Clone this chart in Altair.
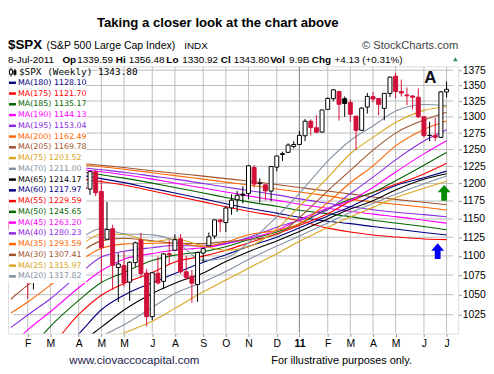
import altair as alt
import pandas as pd
import numpy as np

# ---------------- weekly candles (week start dates) ----------------
dates = ["2010-01-11","2010-01-18","2010-01-25","2010-02-01","2010-02-08","2010-02-15","2010-02-22",
"2010-03-01","2010-03-08","2010-03-15","2010-03-22","2010-03-29",
"2010-04-05","2010-04-12","2010-04-19","2010-04-26",
"2010-05-03","2010-05-10","2010-05-17","2010-05-24","2010-05-31",
"2010-06-07","2010-06-14","2010-06-21","2010-06-28",
"2010-07-05","2010-07-12","2010-07-19","2010-07-26",
"2010-08-02","2010-08-09","2010-08-16","2010-08-23","2010-08-30",
"2010-09-06","2010-09-13","2010-09-20","2010-09-27",
"2010-10-04","2010-10-11","2010-10-18","2010-10-25",
"2010-11-01","2010-11-08","2010-11-15","2010-11-22","2010-11-29",
"2010-12-06","2010-12-13","2010-12-20","2010-12-27",
"2011-01-03","2011-01-10","2011-01-17","2011-01-24","2011-01-31",
"2011-02-07","2011-02-14","2011-02-21","2011-02-28",
"2011-03-07","2011-03-14","2011-03-21","2011-03-28",
"2011-04-04","2011-04-11","2011-04-18","2011-04-25",
"2011-05-02","2011-05-09","2011-05-16","2011-05-23","2011-05-30",
"2011-06-06","2011-06-13","2011-06-20","2011-06-27",
"2011-07-04"]

opens = [1145.96,1136.03,1092.0,1073.89,1065.51,1075.95,1110.0,
1105.36,1138.4,1148.53,1157.25,1167.71,
1178.71,1194.94,1192.06,1217.07,
1188.58,1122.27,1136.52,1084.78,1087.3,
1065.84,1091.21,1121.34,1077.5,
1022.58,1077.23,1066.85,1102.89,
1107.53,1122.8,1079.25,1073.36,1062.9,
1103.8,1113.38,1126.57,1148.64,
1144.96,1165.32,1176.83,1184.74,
1185.71,1223.24,1200.44,1198.07,1189.08,
1223.87,1242.52,1245.76,1254.66,
1257.62,1270.84,1293.22,1283.29,1276.5,
1311.85,1328.73,1340.38,1328.64,
1322.72,1301.19,1279.26,1315.45,
1332.03,1329.01,1313.35,1337.14,
1365.21,1340.20,1334.77,1333.07,1331.10,
1300.26,1271.31,1271.50,1268.44,
1339.59]

highs = [1149.74,1150.45,1103.69,1104.73,1080.04,1112.42,1112.29,
1139.38,1151.26,1169.20,1180.69,1181.43,
1194.66,1213.92,1217.28,1219.80,
1205.13,1173.57,1141.88,1103.52,1105.67,
1092.75,1119.13,1131.23,1082.60,
1078.16,1099.08,1103.73,1120.95,
1128.75,1129.24,1100.14,1081.58,1105.10,
1110.88,1131.47,1148.90,1149.92,
1167.73,1184.38,1189.43,1196.14,
1227.08,1226.84,1207.43,1198.94,1225.57,
1240.40,1246.73,1259.39,1262.60,
1278.17,1296.68,1296.06,1302.67,1311.00,
1330.79,1344.07,1340.38,1332.28,
1327.68,1301.19,1315.13,1337.85,
1339.46,1329.01,1337.49,1364.56,
1370.58,1359.44,1346.82,1334.62,1345.20,
1300.26,1292.50,1298.61,1341.01,
1356.48]

lows = [1131.39,1090.18,1071.59,1044.50,1056.51,1075.95,1086.02,
1105.36,1136.22,1141.45,1148.81,1165.77,
1175.12,1186.77,1183.68,1181.62,
1065.79,1122.27,1055.90,1040.78,1060.50,
1042.17,1085.71,1071.84,1010.91,
1018.35,1062.66,1056.88,1088.01,
1107.17,1076.61,1069.55,1039.70,1040.88,
1091.15,1113.38,1122.79,1131.87,
1131.87,1155.71,1159.71,1171.70,
1177.65,1194.08,1173.00,1176.00,1174.55,
1217.80,1232.85,1245.76,1251.48,
1257.62,1262.70,1271.26,1275.10,1276.50,
1311.74,1324.61,1294.26,1300.10,
1291.99,1249.05,1279.26,1305.26,
1322.94,1302.64,1294.70,1331.47,
1329.17,1332.03,1318.51,1311.80,1297.90,
1268.28,1262.66,1262.87,1267.53,
1330.92]

closes = [1136.03,1091.76,1073.87,1066.19,1075.51,1109.17,1104.49,
1138.70,1149.99,1159.90,1166.59,1178.10,
1194.37,1192.13,1217.28,1186.69,
1110.88,1135.68,1087.69,1089.41,1064.88,
1091.60,1117.51,1076.76,1022.58,
1077.96,1064.88,1102.66,1101.60,
1121.64,1079.25,1071.69,1064.59,1104.51,
1109.55,1125.59,1148.67,1146.24,
1165.15,1176.19,1183.08,1183.26,
1225.85,1199.21,1199.73,1189.40,1224.71,
1240.40,1243.91,1256.77,1257.64,
1271.50,1293.24,1283.35,1276.34,1310.87,
1329.15,1343.01,1319.88,1321.15,
1304.28,1279.20,1313.80,1332.41,
1328.17,1319.68,1337.38,1363.61,
1340.20,1337.77,1333.27,1331.10,1300.16,
1270.98,1271.50,1268.45,1339.67,
1343.80]

# ---------------- moving averages read at sample weeks ----------------
ma_dates = ["2010-01-11","2010-02-01","2010-03-01","2010-04-05","2010-05-03","2010-05-31",
            "2010-07-05","2010-08-02","2010-09-06","2010-10-04","2010-11-01","2010-12-06",
            "2011-01-03","2011-02-07","2011-03-07","2011-04-04","2011-05-02","2011-06-06","2011-07-04"]

ma180 = [1223.7,1221.5,1217.1,1212.1,1207.1,1201.3,1192.8,1186.5,1178.0,1171.1,1164.8,1158.0,1152.4,1146.9,1143.5,1139.5,1136.1,1131.4,1128.10]
ma175 = [1219.3,1216.4,1212.1,1207.1,1202.7,1197.8,1189.3,1182.3,1173.8,1166.9,1160.7,1153.8,1147.5,1137.4,1132.1,1128.1,1125.4,1122.7,1121.70]
ma185 = [1228.0,1225.9,1222.2,1217.1,1212.8,1207.8,1200.6,1194.2,1186.5,1180.1,1173.8,1167.6,1162.0,1157.3,1153.2,1148.2,1144.3,1139.5,1135.17]
ma190 = [1231.0,1228.8,1225.1,1220.8,1217.1,1212.8,1206.3,1200.6,1193.5,1187.9,1182.3,1175.9,1170.4,1164.8,1160.7,1156.6,1153.2,1148.2,1144.13]
ma195 = [1233.9,1231.7,1228.0,1223.7,1220.0,1216.4,1210.7,1206.3,1199.9,1194.9,1190.0,1183.7,1178.0,1171.8,1166.9,1162.7,1159.3,1155.9,1153.04]
ma200 = [1236.9,1234.6,1231.7,1227.3,1224.4,1220.8,1215.7,1211.4,1206.3,1202.0,1197.8,1192.1,1187.9,1182.3,1177.3,1173.8,1170.4,1166.2,1162.49]
ma205 = [1239.2,1236.9,1233.9,1229.5,1226.6,1223.2,1218.6,1215.0,1210.7,1207.1,1203.5,1198.5,1194.2,1189.3,1185.1,1180.8,1177.3,1173.2,1169.78]
ma75 = [955.0,968.20,961.08,975.27,991.36,1002.84,1016.92,1032.79,1053.63,1068.50,1083.84,1102.91,1119.49,1138.25,1153.02,1166.07,1179.61,1193.16,1203.52]
ma70 = [945.0,950.77,961.38,982.41,998.62,1012.61,1034.07,1051.32,1066.04,1079.71,1095.21,1113.17,1126.80,1144.53,1159.03,1171.48,1184.49,1199.64,1211.00]
ma65 = [943.0,952.88,967.99,989.32,1009.79,1030.75,1051.46,1064.51,1077.66,1092.58,1105.67,1120.05,1132.68,1150.01,1163.75,1175.51,1190.79,1206.10,1214.17]
ma60 = [945.0,960.20,974.29,1001.71,1031.08,1049.31,1065.33,1076.97,1091.53,1101.60,1112.50,1125.11,1137.63,1154.22,1166.98,1182.75,1197.06,1208.43,1217.97]
ma55 = [952.0,966.89,986.43,1025.26,1049.30,1064.24,1078.29,1092.03,1099.71,1107.52,1117.33,1129.75,1141.09,1157.06,1174.58,1187.32,1198.77,1213.95,1229.59]
ma50 = [965.79,981.12,1010.80,1042.76,1065.37,1078.39,1093.84,1101.09,1105.67,1112.10,1121.66,1132.07,1142.91,1164.19,1177.65,1187.08,1203.88,1226.54,1245.65]
ma45 = [986.79,1006.58,1028.65,1058.72,1080.51,1095.68,1102.99,1107.86,1110.74,1116.07,1123.34,1134.26,1149.25,1164.80,1175.86,1194.31,1216.75,1243.50,1263.20]
ma40 = [1009.14,1024.60,1044.84,1075.49,1098.51,1106.21,1110.94,1113.84,1113.29,1116.67,1124.71,1138.70,1148.08,1162.87,1185.63,1209.26,1234.61,1262.90,1280.23]
ma35 = [1026.86,1040.73,1062.02,1092.08,1110.12,1115.75,1116.96,1117.20,1112.46,1118.68,1128.41,1134.25,1143.48,1172.73,1201.11,1225.76,1255.50,1280.59,1293.59]
ma30 = [1044.21,1062.12,1079.13,1103.49,1120.07,1123.57,1120.16,1116.88,1116.42,1119.20,1121.52,1128.54,1151.75,1189.52,1218.96,1249.07,1274.91,1295.10,1307.41]
ma25 = [1068.49,1077.68,1090.23,1112.30,1129.44,1128.73,1119.19,1122.53,1113.22,1107.40,1112.11,1136.21,1167.71,1208.36,1243.72,1268.41,1291.19,1310.20,1315.97]
ma20 = [1082.75,1087.97,1097.93,1121.88,1136.91,1129.66,1128.16,1120.04,1094.10,1097.34,1117.59,1153.02,1185.80,1232.80,1263.68,1285.96,1309.08,1319.62,1317.82]

# legend order: (name, colour, series)
ma_list = [
    ("MA(180)", "#000080", ma180), ("MA(175)", "#ff0000", ma175), ("MA(185)", "#006400", ma185),
    ("MA(190)", "#ff00ff", ma190), ("MA(195)", "#8a2be2", ma195), ("MA(200)", "#ff6600", ma200),
    ("MA(205)", "#a0522d", ma205), ("MA(75)", "#daa520", ma75), ("MA(70)", "#8392a2", ma70),
    ("MA(65)", "#000000", ma65), ("MA(60)", "#000080", ma60), ("MA(55)", "#ff0000", ma55),
    ("MA(50)", "#006400", ma50), ("MA(45)", "#ff00ff", ma45), ("MA(40)", "#8a2be2", ma40),
    ("MA(35)", "#ff6600", ma35), ("MA(30)", "#a0522d", ma30), ("MA(25)", "#daa520", ma25),
    ("MA(20)", "#8392a2", ma20),
]

y_ticks = [1025, 1050, 1075, 1100, 1125, 1150, 1175, 1200, 1225, 1250, 1275, 1300, 1325, 1350, 1375]
month_weeks = ["2010-02-01","2010-03-01","2010-04-05","2010-05-03","2010-05-31","2010-07-05",
               "2010-08-02","2010-09-06","2010-10-04","2010-11-01","2010-12-06","2011-01-03",
               "2011-02-07","2011-03-07","2011-04-04","2011-05-02","2011-06-06","2011-07-04"]
year_start = "2011-01-03"
x_lo, x_hi = "2010-01-13T16:20:00", "2011-07-12T09:07:00"
y_lo, y_hi = 1002.1, 1381.5

def ms(s):
    return int(pd.Timestamp(s).tz_localize("UTC").value // 10**6)

W, H = 455, 270
x_scale = alt.Scale(type="utc", domain=[ms(x_lo), ms(x_hi)])
y_scale = alt.Scale(type="log", domain=[y_lo, y_hi], nice=False, zero=False)
FONT = "Liberation Sans"
GRID = "#bdbdbd"

# ---------------- frames ----------------
cdf = pd.DataFrame(dict(date=dates, open=opens, high=highs, low=lows, close=closes))
prev = cdf["close"].shift(1).fillna(cdf["open"])
cdf["col"] = np.where(cdf["close"] >= prev, "#000000", "#d1103a")
cdf["fillc"] = np.where(cdf["close"] > cdf["open"], "#ffffff", cdf["col"])
cdf["body_lo"] = cdf[["open", "close"]].min(axis=1)
cdf["body_hi"] = cdf[["open", "close"]].max(axis=1)

rows = []
for name, col, ser in ma_list:
    for d, v in zip(ma_dates, ser):
        rows.append(dict(name=name, color=col, date=d, value=v))
mdf = pd.DataFrame(rows)

# grid segments (two end points each), stored with the MA-style columns
grid_rows = []
for v in y_ticks:
    for d in ("2010-01-14", "2011-07-12"):
        grid_rows.append(dict(name=f"h{v}", color=GRID, date=d, value=v))
for d in month_weeks:
    for v in (1003.0, 1381.0):
        grid_rows.append(dict(name=f"v{d}", color=GRID, date=d, value=v))
for v in (1003.0, 1381.0):
    grid_rows.append(dict(name="year", color="#8c8c8c", date=year_start, value=v))
gdf = pd.DataFrame(grid_rows)

month_expr = "utcmonth(datum.value + 259200000)"
x_axis = alt.Axis(values=[ms(d) for d in month_weeks],
                  labelExpr=f"{month_expr} == 0 ? '11' : substring('JFMAMJJASOND', {month_expr}, {month_expr} + 1)",
                  labelFontWeight={"condition": {"test": f"{month_expr} == 0", "value": "bold"}, "value": "normal"},
                  grid=False, domain=False, tickSize=3, tickColor="#999999",
                  labelFont=FONT, labelFontSize=10.5, labelColor="#000000", labelPadding=2, title=None)
y_axis = alt.Axis(orient="right", values=y_ticks, format="d", grid=False,
                  domain=False, tickSize=3, tickColor="#999999", labelFont=FONT, labelFontSize=10.5,
                  labelColor="#000000", labelPadding=1, title=None)

X = lambda f="date:T": alt.X(f, scale=x_scale, axis=x_axis)
Y = lambda f: alt.Y(f, scale=y_scale, axis=y_axis)

grid = alt.Chart(gdf).mark_line(strokeWidth=1, clip=True).encode(
    x=X(), y=Y("value:Q"), detail="name:N", color=alt.Color("color:N", scale=None))

ma_layer = alt.Chart(mdf).mark_line(strokeWidth=1.1, interpolate="monotone", clip=True).encode(
    x=X(), y=Y("value:Q"),
    detail="name:N",
    color=alt.Color("color:N", scale=None))

wick = alt.Chart(cdf).mark_rule(strokeWidth=1, clip=True).encode(
    x=X(), y=Y("low:Q"), y2="high:Q",
    color=alt.Color("col:N", scale=None))

body = alt.Chart(cdf).mark_bar(size=4, strokeWidth=1, clip=True).encode(
    x=X(), y=Y("body_lo:Q"), y2="body_hi:Q",
    fill=alt.Fill("fillc:N", scale=None),
    stroke=alt.Stroke("col:N", scale=None))

arrow_path = "M0,-1.25 L1,-0.1 L0.45,-0.1 L0.45,1.2 L-0.45,1.2 L-0.45,-0.1 L-1,-0.1 Z"
arrows = alt.Chart(pd.DataFrame({"date": ["2011-07-01", "2011-06-23"], "value": [1186.5, 1106.0],
                                 "color": ["#008a00", "#0000ff"]})).mark_point(
    shape=arrow_path, size=169, filled=True, opacity=1, strokeWidth=0).encode(
    x=X(), y=Y("value:Q"),
    color=alt.Color("color:N", scale=None))

a_label = alt.Chart(pd.DataFrame({"date": ["2011-06-14"], "value": [1362.7], "t": ["A"]})).mark_text(
    font=FONT, fontSize=17, fontWeight="bold", color="#0d0d1a", baseline="middle", align="center").encode(
    x=X(), y=Y("value:Q"), text="t:N")

main = alt.layer(grid, ma_layer, wick, body, arrows, a_label)

# ---------------- legend box ----------------
leg_df = pd.DataFrame({
    "row": list(range(1, len(ma_list) + 1)),
    "label": [f"{n} {s[-1]:.2f}" for n, _, s in ma_list],
    "color": [c for _, c, _ in ma_list],
})
leg_scale = alt.Scale(domain=[0, 19], range=[5.8, 212.3])
one = pd.DataFrame({"a": [0]})

leg_box = alt.Chart(one).mark_rect(fill="white").encode(
    x=alt.value(0.5), x2=alt.value(79), y=alt.value(0.5), y2=alt.value(219))
leg_lines = alt.Chart(leg_df).mark_rule(strokeWidth=2.5).encode(
    x=alt.value(1), x2=alt.value(8),
    y=alt.Y("row:Q", scale=leg_scale, axis=None),
    color=alt.Color("color:N", scale=None))
leg_text = alt.Chart(leg_df).mark_text(align="left", baseline="middle", font="DejaVu Sans", fontSize=8).encode(
    x=alt.value(10),
    y=alt.Y("row:Q", scale=leg_scale, axis=None),
    text="label:N",
    color=alt.Color("color:N", scale=None))
price_df = pd.DataFrame({"row": [0], "label": [f"$SPX (Weekly) {closes[-1]:.2f}"]})
leg_price = alt.Chart(price_df).mark_text(align="left", baseline="middle", font="DejaVu Sans Mono",
                                           fontSize=9.5, color="#000000").encode(
    x=alt.value(11),
    y=alt.Y("row:Q", scale=leg_scale, axis=None),
    text="label:N")
icon_w = alt.Chart(one).mark_rule(color="black", strokeWidth=1).encode(
    x=alt.value(3), y=alt.value(1.5), y2=alt.value(10.5))
icon_w2 = alt.Chart(one).mark_rule(color="black", strokeWidth=1).encode(
    x=alt.value(7), y=alt.value(2.5), y2=alt.value(9.5))
icon_b = alt.Chart(one).mark_rect(fill="white", stroke="black", strokeWidth=1).encode(
    x=alt.value(1.5), x2=alt.value(4.5), y=alt.value(3.5), y2=alt.value(8))
icon_b2 = alt.Chart(one).mark_rect(fill="black").encode(
    x=alt.value(5.5), x2=alt.value(8.5), y=alt.value(4), y2=alt.value(8.5))

legend = alt.layer(leg_box, leg_lines, leg_text, leg_price, icon_w, icon_w2, icon_b, icon_b2)

# ---------------- header / footer texts ----------------
def txt(s, x, y, size=11, weight="normal", align="left", color="#000000", font=FONT):
    return alt.Chart(pd.DataFrame({"t": [s]})).mark_text(
        align=align, baseline="alphabetic", font=font, fontSize=size, fontWeight=weight, color=color).encode(
        x=alt.value(x), y=alt.value(y), text="t:N")

L2 = -3.5
texts = [
    txt("Taking a closer look at the chart above", 212, -40, size=13.3, weight="bold", align="center"),
    txt("$SPX", 0, -17.5, size=13.5, weight="bold"),
    txt("(S&P 500 Large Cap Index)", 39, -17.5, size=10.6),
    txt("INDX", 178, -17.5, size=10),
    txt("\u00a9 StockCharts.com", 455, -17.5, size=11.3, align="right", color="#444444"),
    txt("8-Jul-2011", 0, L2, size=10),
    txt("Op", 55, L2, size=10, weight="bold"),
    txt("1339.59", 70, L2, size=10),
    txt("Hi", 109, L2, size=10, weight="bold"),
    txt("1356.48", 122, L2, size=10),
    txt("Lo", 160, L2, size=10, weight="bold"),
    txt("1330.92", 176, L2, size=10),
    txt("Cl", 215, L2, size=10, weight="bold"),
    txt("1343.80", 228, L2, size=10),
    txt("Vol", 265, L2, size=10, weight="bold"),
    txt("9.9B", 284, L2, size=10),
    txt("Chg", 307, L2, size=10, weight="bold"),
    txt("+4.13 (+0.31%)", 330, L2, size=10),
    txt("www.ciovaccocapital.com", 62, 301, size=11.6, color="#1a1a4a"),
    txt("For illustrative purposes only.", 266, 301, size=11, color="#000000"),
]
tri = alt.Chart(one).mark_point(shape="triangle-up", size=22, filled=True, color="#2e8b57", opacity=1).encode(
    x=alt.value(452), y=alt.value(-7))

overlay = alt.layer(*texts, tri)

chart = alt.layer(main, legend, overlay).resolve_scale(y="independent").properties(
    width=W, height=H,
    padding={"left": 0, "top": 57, "right": 28, "bottom": 36},
    autosize=alt.AutoSizeParams(type="none"),
).configure_view(stroke="#999999", strokeWidth=1).configure(background="white")

chart.save("out.html", embed_options={"renderer": "svg", "actions": False})
